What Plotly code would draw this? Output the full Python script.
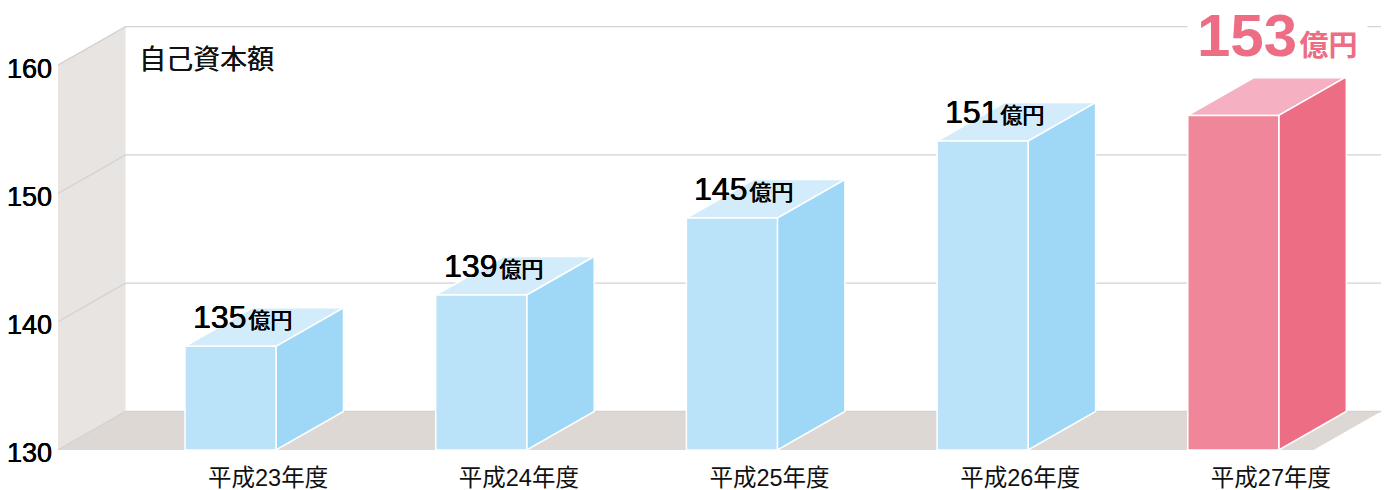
import plotly.graph_objects as go

categories = ["平成23年度", "平成24年度", "平成25年度", "平成26年度", "平成27年度"]
values = [135, 139, 145, 151, 153]
y_ticks = [130, 140, 150, 160]
title_text = "自己資本額"
unit = "億円"

FONT = "'Liberation Sans', 'Noto Sans CJK JP', sans-serif"
PX_X = 250.7      # pixels per category
PX_Y = 12.83      # pixels per axis unit
ORIGIN_X = 230.5  # pixel of first category centre
BASE = 130
DX = 67.5 / PX_X  # depth of the 3D projection
DY = 38.5 / PX_Y
HALF = 45.5 / PX_X
LIFT = 3.08       # bars stand on the rear of the floor plane in the source drawing
W_L = (58 - ORIGIN_X) / PX_X
F_R = (1381 - ORIGIN_X) / PX_X
TOP = max(y_ticks)

WALL, FLOOR, GRID = "#E8E4E1", "#DDD8D4", "#D2D2D2"
BLUE = ("#BAE2F9", "#9FD7F6", "#D3ECFB")
PINK = ("#EF869A", "#ED6D84", "#F5B1C2")
HEAVY = "0.4px 0 0 #000000, -0.2px 0 0 #000000"


def poly(xs, ys, fill, line=None, width=1.5):
    return go.Scatter(x=xs, y=ys, mode="lines", fill="toself", fillcolor=fill,
                      line=dict(color=line or fill, width=width if line else 0),
                      hoverinfo="skip", showlegend=False, cliponaxis=False)


fig = go.Figure()
# side wall and floor
fig.add_trace(poly([W_L, W_L + DX, W_L + DX, W_L], [BASE, BASE + DY, TOP + DY, TOP], WALL))
fig.add_trace(poly([W_L, W_L + DX, F_R, F_R - DX], [BASE, BASE + DY, BASE + DY, BASE], FLOOR))
# gridlines
for t in y_ticks:
    fig.add_trace(go.Scatter(x=[W_L, W_L + DX, F_R], y=[t, t + DY, t + DY], mode="lines",
                             line=dict(color=GRID, width=1.3), hoverinfo="skip", showlegend=False,
                             cliponaxis=False))
# bars
for i, v in enumerate(values):
    front, side, top = PINK if i == len(values) - 1 else BLUE
    l, r, h = i - HALF, i + HALF, v + LIFT
    fig.add_trace(poly([l, r, r + DX, l + DX, l], [h, h, h + DY, h + DY, h], top, "#FFFFFF"))
    fig.add_trace(poly([r, r + DX, r + DX, r, r], [BASE, BASE + DY, h + DY, h, BASE], side, "#FFFFFF"))
    fig.add_trace(poly([l, r, r, l, l], [BASE, BASE, h, h, BASE], front, "#FFFFFF"))

annotations = [dict(xref="paper", yref="paper", x=(137 - 58) / (1387 - 58), y=(450 - 60) / 450,
                    xanchor="left", yanchor="middle", showarrow=False, text=title_text,
                    font=dict(family=FONT, size=27, color="#111111",
                              shadow="0.3px 0 0 #111111"))]
for i, v in enumerate(values):
    if i == len(values) - 1:
        annotations.append(dict(
            x=i - HALF - 1 / PX_X, y=v + LIFT + DY, xanchor="left", yanchor="bottom", yshift=-2,
            showarrow=False, bgcolor="#FFFFFF", borderpad=9,
            text=f"<b>{v}</b><span style='font-size:29px'>&#8202;<b>{unit}</b></span>",
            font=dict(family=FONT, size=60, color=PINK[1])))
    else:
        annotations.append(dict(
            x=i - HALF + 6 / PX_X, y=v + LIFT + DY, xanchor="left", yanchor="middle", yshift=-9,
            showarrow=False,
            text=f"{v}<span style='font-size:22px'>&#8202;{unit}</span>",
            font=dict(family=FONT, size=32, color="#000000", shadow=HEAVY)))

fig.update_layout(
    width=1387, height=490, margin=dict(l=58, r=0, t=0, b=40, autoexpand=False),
    paper_bgcolor="#FFFFFF", plot_bgcolor="#FFFFFF", showlegend=False, hovermode=False,
    font=dict(family=FONT, color="#000000"),
    annotations=annotations,
    xaxis=dict(range=[W_L, (1387 - ORIGIN_X) / PX_X], showgrid=False, zeroline=False, showline=False,
               automargin=False,
               tickmode="array", tickvals=[i + 0.15 for i in range(len(categories))],
               ticktext=categories, ticks="outside", ticklen=7, tickcolor="rgba(0,0,0,0)",
               tickfont=dict(size=23.5, color="#111111")),
    yaxis=dict(range=[BASE, BASE + 450 / PX_Y], showgrid=False, zeroline=False, showline=False,
               automargin=False,
               tickmode="array", tickvals=y_ticks, ticktext=[str(t) for t in y_ticks],
               ticks="", ticklabelstandoff=5, ticklabelshift=3,
               tickfont=dict(size=27, color="#000000", shadow=HEAVY)),
)
fig.write_html("out.html", config={"displayModeBar": False},
               post_script="document.body.style.margin='0';")
